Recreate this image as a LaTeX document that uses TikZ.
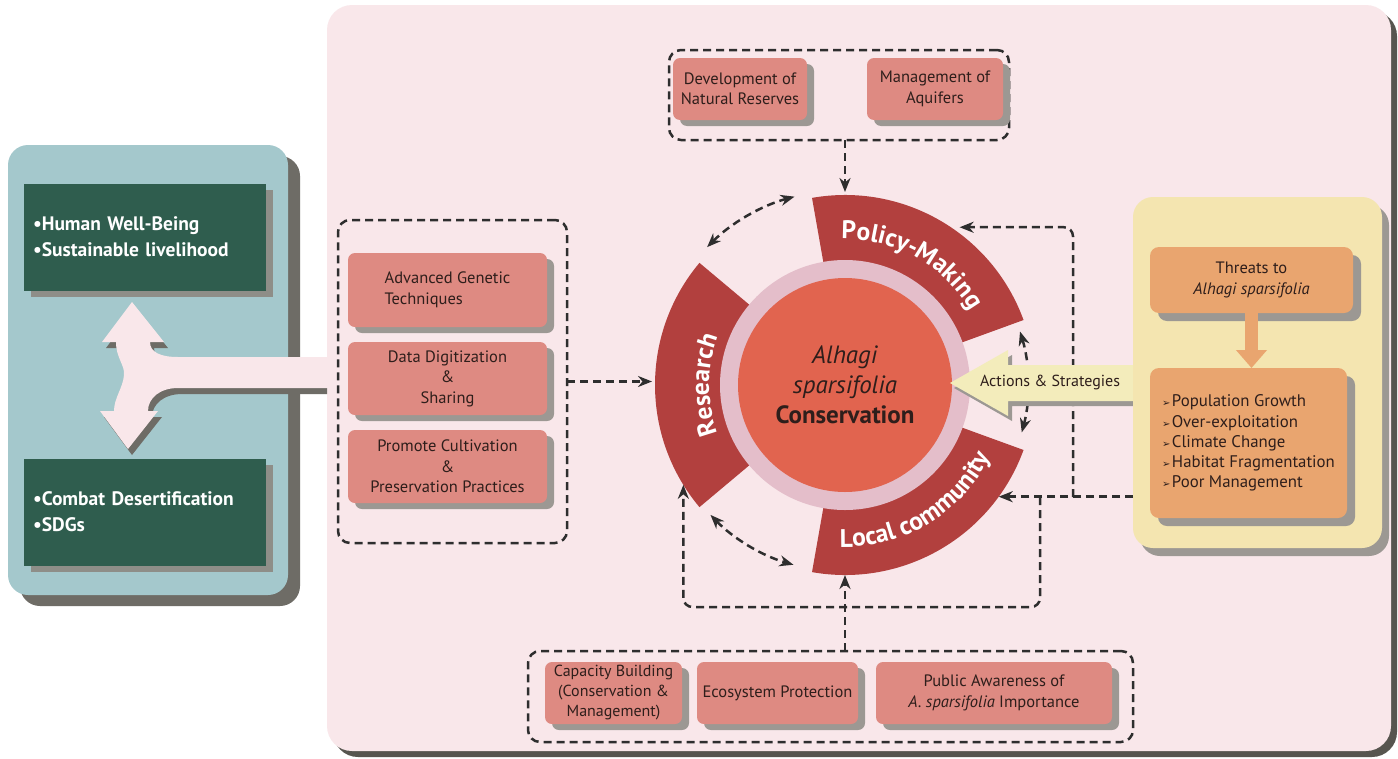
\documentclass[tikz,border=0pt]{standalone}
\usepackage{fontspec}
\setmainfont{PT Sans}
\newfontfamily\dvfont{DejaVu Sans}
\usetikzlibrary{arrows.meta,decorations.text,shadows,calc}
\definecolor{panelpink}{HTML}{F9E7EA}
\definecolor{panelshadow}{HTML}{57554F}
\definecolor{tealbg}{HTML}{A4C8CC}
\definecolor{tealshadow}{HTML}{6E6C66}
\definecolor{greenc}{HTML}{2F5D4E}
\definecolor{greenshadow}{HTML}{8E8E88}
\definecolor{boxred}{HTML}{DE8A82}
\definecolor{boxshadow}{HTML}{9C9893}
\definecolor{segred}{HTML}{B2403E}
\definecolor{ringpink}{HTML}{E4BECA}
\definecolor{corered}{HTML}{E1644F}
\definecolor{ylwpanel}{HTML}{F4E5B0}
\definecolor{orangec}{HTML}{E9A56F}
\definecolor{actyellow}{HTML}{F3ECBB}
\definecolor{dashcol}{HTML}{2E2E2E}
\definecolor{txtdark}{HTML}{2E1E1B}
\newcommand\segfnt{\fontsize{25.5}{25.5}\selectfont\bfseries}
\newcommand\blt{{\dvfont\fontsize{10}{10}\selectfont ➢}\hspace{1.5pt}}
\begin{document}
\begin{tikzpicture}[x=1pt,y=-1pt,
  every node/.style={inner sep=0pt, outer sep=0pt},
  redbox/.style={fill=boxred, rounded corners=7pt, text=txtdark, align=center,
    font=\fontsize{16.5}{20.5}\selectfont,
    drop shadow={shadow xshift=7pt, shadow yshift=-6pt, fill=boxshadow, opacity=1}},
  grp/.style={draw=dashcol, line width=2.5pt, dash pattern=on 8pt off 5pt, rounded corners=12pt},
  tip/.tip={Stealth[length=14pt,width=11pt,inset=4.5pt]},
  conn/.style={draw=dashcol, line width=2.5pt, dash pattern=on 8pt off 5pt, -tip},
  dbl/.style={conn, tip-tip},
  greenbox/.style={fill=greenc, text=white, align=left, text width=224pt,
    font=\fontsize{19.5}{26}\selectfont\bfseries,
    drop shadow={shadow xshift=7pt, shadow yshift=-6pt, fill=greenshadow, opacity=1}},
  orbox/.style={fill=orangec, rounded corners=9pt, text=txtdark,
    drop shadow={shadow xshift=8pt, shadow yshift=-8pt, fill=boxshadow, opacity=1}}
]
\useasboundingbox (0,0) rectangle (1398,758);
\fill[white] (0,0) rectangle (1398,758);

% main panel
\fill[panelshadow, rounded corners=25pt] (333,11) rectangle (1397,757);
\fill[panelpink, rounded corners=25pt] (327,5) rectangle (1391,751);

% left teal panel
\node[fill=tealbg, rounded corners=20pt, minimum width=280pt, minimum height=450pt,
  drop shadow={shadow xshift=12pt, shadow yshift=-11pt, fill=tealshadow, opacity=1}] (lpanel) at (148,370) {};
\node[greenbox, minimum width=242pt, minimum height=107pt] (hwb) at (145,237)
  {\textbullet Human Well-Being\\\textbullet Sustainable livelihood};
\node[greenbox, minimum width=242pt, minimum height=107pt] (cds) at (145,512)
  {\textbullet Combat Desertification\\\textbullet SDGs};

% branching pink arrow
\def\bandpath{(335,357) -- (178,357) .. controls (160,357) and (150,352) .. (150,342)
  -- (164,342) -- (132,302) -- (102,342) -- (116,342)
  .. controls (116,358) and (125,365) .. (124,375)
  .. controls (123,388) and (114,398) .. (114,411)
  -- (100,411) -- (128,449) -- (158,411) -- (148,411)
  .. controls (148,398) and (160,388) .. (178,388) -- (335,388) -- cycle}
\begin{scope}
  \clip (0,0) rectangle (327,758);
  \fill[tealshadow, shift={(4,6)}] \bandpath;
\end{scope}
\fill[panelpink] \bandpath;

% left group
\node[grp, minimum width=229pt, minimum height=323pt] (leftgrp) at (452.5,381.5) {};
\node[redbox, minimum width=199pt, minimum height=74pt] (agt) at (447.5,290)
  {\begin{tabular}{@{}l@{}}Advanced Genetic\\Techniques\end{tabular}};
\node[redbox, minimum width=199pt, minimum height=73pt] (dds) at (447.5,378.5)
  {Data Digitization\\\&\\Sharing};
\node[redbox, minimum width=199pt, minimum height=73pt] (pcp) at (447.5,466.5)
  {Promote Cultivation\\\&\\Preservation Practices};

% top group
\node[grp, minimum width=340pt, minimum height=90pt] (topgrp) at (839,95) {};
\node[redbox, minimum width=134pt, minimum height=62pt] (dnr) at (740,89)
  {Development of\\Natural Reserves};
\node[redbox, minimum width=136pt, minimum height=62pt] (moa) at (935,89)
  {Management of\\Aquifers};

% bottom group
\node[grp, minimum width=605pt, minimum height=91pt] (botgrp) at (830.5,696.5) {};
\node[redbox, minimum width=137pt, minimum height=62pt, font=\fontsize{16}{20}\selectfont] (cap) at (613.5,693)
  {Capacity Building\\(Conservation \&\\Management)};
\node[redbox, minimum width=161pt, minimum height=62pt] (eco) at (777.5,693)
  {Ecosystem Protection};
\node[redbox, minimum width=236pt, minimum height=62pt] (pub) at (994,693)
  {Public Awareness of\\\textit{A. sparsifolia} Importance};

% central wheel
\begin{scope}[shift={(845,385)}, y=1pt]
  \fill[segred] (20:190) arc[start angle=20,end angle=100,radius=190] -- (100:120) arc[start angle=100,end angle=20,radius=120] -- cycle;
  \fill[segred] (140:190) arc[start angle=140,end angle=220,radius=190] -- (220:120) arc[start angle=220,end angle=140,radius=120] -- cycle;
  \fill[segred] (260:190) arc[start angle=260,end angle=340,radius=190] -- (340:120) arc[start angle=340,end angle=260,radius=120] -- cycle;
  \node[circle, fill=ringpink, minimum size=250pt] (ring) at (0,0) {};
  \node[circle, fill=corered, minimum size=214pt, align=center, text=txtdark,
    font=\fontsize{25}{30}\selectfont] (core) at (0,0)
    {\textit{Alhagi}\\\textit{sparsifolia}\\\textbf{Conservation}};
  \path[decorate, decoration={text along path, text align=center, text color=white,
    text={|\segfnt|Policy-Making}}] (104:146) arc[start angle=104,end angle=18,radius=146];
  \path[decorate, decoration={text along path, text align=center, text color=white,
    text={|\segfnt|Research}}] (217:136) arc[start angle=217,end angle=143,radius=136];
  \path[decorate, decoration={text along path, text align=center, text color=white,
    text={|\segfnt|Local community}}] (250:162) arc[start angle=250,end angle=352,radius=162];
  \coordinate (polTop) at (90:193);
  \coordinate (resL) at (180:193);
  \coordinate (locBot) at (270:190);
  \coordinate (polR) at (54:195);
  \coordinate (locR) at (-36:190);
  \coordinate (resB) at (211.7:190);
  \coordinate (prA) at (135:195);
  \coordinate (rlA) at (224:187);
  \coordinate (plA) at (17:183);
  \draw[dbl] (prA) arc[start angle=135,end angle=105,radius=195];
  \draw[dbl] (rlA) arc[start angle=224,end angle=254,radius=187];
  \draw[dbl] (plA) arc[start angle=17,end angle=-15,radius=183];
\end{scope}

% connectors
\coordinate (jR) at (1073,497);
\coordinate (jB) at (1040,497);
\coordinate (loopY) at (0,607);
\draw[conn] (leftgrp.east) -- (leftgrp.east -| resL);
\draw[conn] (topgrp.south -| polTop) -- (polTop);
\draw[conn] (botgrp.north -| locBot) -- (locBot);
\draw[conn, rounded corners=9pt] (jR) |- (polR);
\draw[conn, rounded corners=9pt] (jB) -- (jB |- loopY) -| (resB);

% actions arrow
\def\actpath{(950,383) -- (1008,350) -- (1008,365) -- (1140,365) -- (1140,401) -- (1008,401) -- (1008,416) -- cycle}
\fill[boxshadow, shift={(4,5)}] \actpath;
\fill[actyellow] \actpath;
\node[font=\fontsize{16}{19}\selectfont, text=txtdark] (actions) at (1050,382) {Actions \& Strategies};

% right panel
\node[fill=ylwpanel, rounded corners=20pt, minimum width=249pt, minimum height=351pt,
  drop shadow={shadow xshift=7pt, shadow yshift=-8pt, fill=boxshadow, opacity=1}] (rpanel) at (1257.5,372.5) {};
\node[orbox, minimum width=203pt, minimum height=66pt, align=center,
  font=\fontsize{16.5}{20.5}\selectfont] (threats) at (1251.5,280)
  {Threats to\\\textit{Alhagi sparsifolia}};
\node[orbox, minimum width=197pt, minimum height=150pt, align=left,
  font=\fontsize{16.8}{20.2}\selectfont] (list) at (1248.5,443)
  {\blt Population Growth\\\blt Over-exploitation\\\blt Climate Change\\\blt Habitat Fragmentation\\\blt Poor Management};
\draw[orangec, line width=13pt, -{Triangle[length=18pt,width=30pt]}] (threats.south) -- (threats.south |- list.north);

\draw[conn] (rpanel.west |- locR) -- (locR);
\end{tikzpicture}
\end{document}
